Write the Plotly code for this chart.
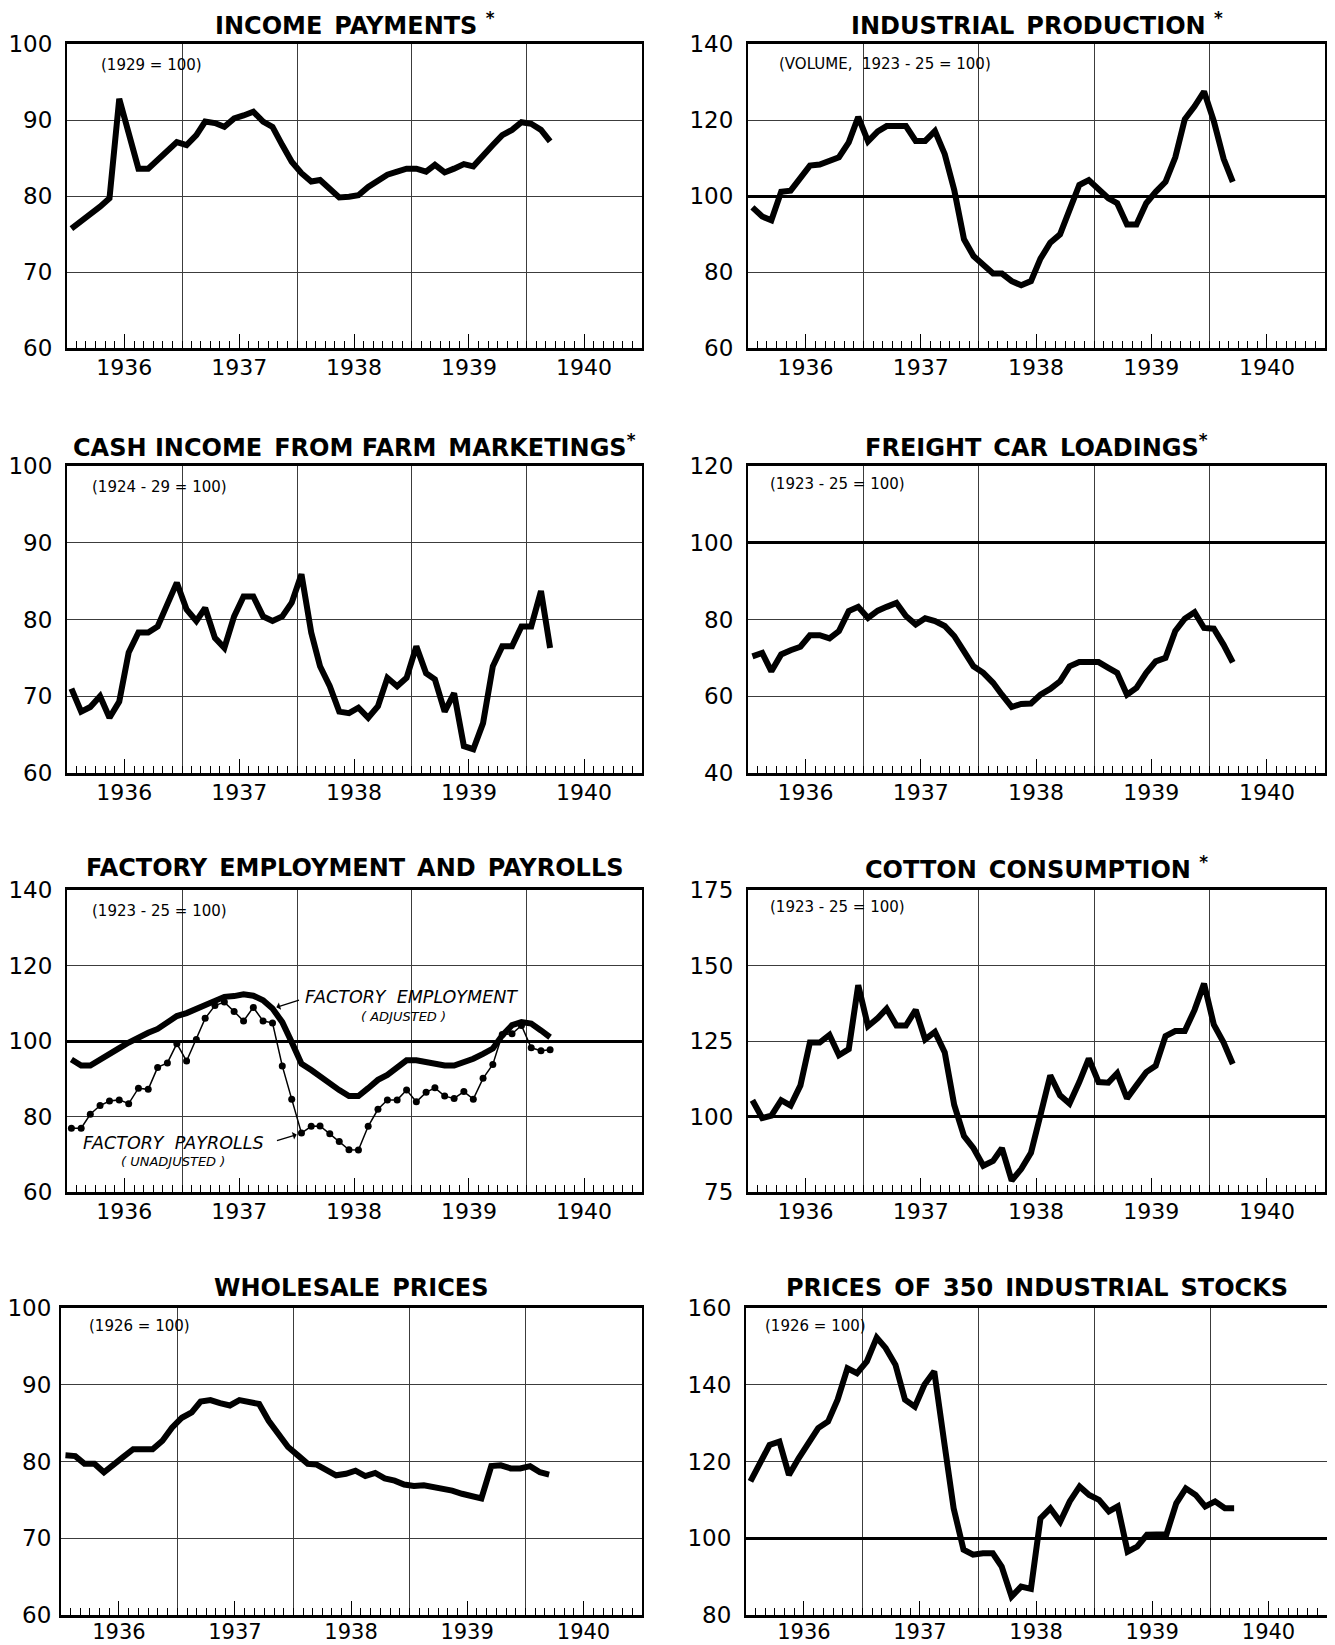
import plotly.graph_objects as go

# ---------------- data (monthly, Jan 1936 - Mar 1940) ----------------
months = [f"{1936 + k // 12}-{k % 12 + 1:02d}-15" for k in range(51)]

income_payments = [75.7, 76.6, 77.6, 78.6, 79.7, 92.8, 88.2, 83.6, 83.6, 84.7,
                   85.8, 87.1, 86.7, 88.0, 89.8, 89.6, 89.1, 90.2, 90.6, 91.1,
                   89.8, 89.1, 86.7, 84.5, 83.0, 81.9, 82.1, 81.0, 79.8, 79.9,
                   80.1, 81.2, 81.9, 82.8, 83.2, 83.6, 83.6, 83.2, 84.1, 83.1,
                   83.6, 84.2, 83.9, 85.4, 86.7, 88.0, 88.7, 89.7, 89.5, 88.7, 87.2]

industrial_production = [97, 94.6, 93.6, 101.1, 101.4, 104.6, 108, 108.3, 109.2, 110.2,
                         114.1, 120.8, 114.4, 117, 118.4, 118.4, 118.4, 114.5, 114.5, 117.1,
                         111, 101.6, 88.6, 84.2, 81.7, 79.6, 79.6, 77.6, 76.5, 77.6,
                         83.5, 87.7, 89.9, 95.9, 102.9, 104.2, 101.6, 99.4, 98.1, 92.5,
                         92.5, 98.1, 101.1, 103.7, 110.2, 120.2, 123.6, 127.5, 119.7, 109.8, 103.7]

farm_income = [71, 68, 68.6, 70, 67.2, 69.3, 75.7, 78.3, 78.3, 79.1,
               82, 84.8, 81.3, 79.8, 81.5, 77.6, 76.3, 80.4, 83, 83,
               80.4, 79.8, 80.4, 82.2, 85.9, 78.3, 73.9, 71.3, 68, 67.8,
               68.5, 67.2, 68.7, 72.4, 71.3, 72.4, 76.5, 73, 72.2, 68,
               70.4, 63.5, 63.1, 66.5, 73.9, 76.5, 76.5, 79.1, 79.1, 83.7, 76.3]

freight_loadings = [70.4, 71.3, 66.5, 70.9, 72, 72.9, 75.9, 75.9, 75.1, 77,
                    82.2, 83.3, 80.4, 82.3, 83.3, 84.3, 80.9, 78.7, 80.3, 79.6,
                    78.3, 75.7, 71.7, 67.8, 66.1, 63.5, 60.4, 57.2, 58, 58.1,
                    60.4, 61.9, 63.9, 67.8, 68.9, 68.9, 68.9, 67.4, 66.1, 60.4,
                    62.2, 66.1, 69.1, 70, 77, 80.2, 81.9, 77.8, 77.6, 73.4, 68.8]

factory_employment = [95.1, 93.5, 93.5, 94.9, 96.6, 98.1, 99.6, 101, 102.2, 103.2,
                      105, 106.6, 107.4, 108.5, 109.7, 110.8, 111.7, 111.9, 112.4, 112,
                      110.8, 108.6, 105, 99.7, 94, 92.3, 90.5, 88.8, 87, 85.4,
                      85.4, 87.5, 89.7, 91, 93.2, 94.9, 94.9, 94.4, 94, 93.5,
                      93.5, 94.4, 95.3, 96.6, 98, 101.5, 104.2, 105, 104.6, 102.8, 101]

factory_payrolls = [76.9, 76.9, 80.6, 82.9, 84.1, 84.4, 83.4, 87.5, 87.2, 93,
                    94.2, 99.3, 94.7, 100.4, 106, 109.4, 110.3, 107.8, 105.3, 108.9,
                    105.3, 104.8, 93.4, 84.6, 75.6, 77.4, 77.5, 75.4, 73.4, 71.2,
                    71.1, 77.4, 81.9, 84.4, 84.4, 87, 83.9, 86.4, 87.6, 85.4,
                    84.8, 86.6, 84.6, 90.1, 93.8, 101.7, 101.9, 104.1, 98.2, 97.4, 97.7]

cotton_consumption = [105.4, 99.5, 100.3, 105.4, 103.6, 110.3, 124.5, 124.5, 127, 120.3,
                      122.3, 143.5, 129.9, 132.6, 135.7, 130.1, 130.1, 135.3, 125.5, 128,
                      121.2, 103.8, 93.5, 89.5, 83.7, 85.3, 89.5, 78.8, 82.6, 88,
                      100.5, 113.6, 107, 104.3, 111.4, 119.2, 111.4, 111.2, 114.3, 106,
                      110.3, 114.7, 116.8, 126.6, 128.3, 128.3, 135.3, 144, 130.4, 124.5, 117.4]

wholesale_prices = [80.8, 80.7, 79.7, 79.7, 78.6, 79.5, 80.6, 81.6, 81.6, 81.6,
                    82.7, 84.4, 85.7, 86.4, 87.8, 88, 87.6, 87.3, 88, 87.7,
                    87.5, 85.3, 83.4, 81.9, 80.8, 79.7, 79.6, 78.8, 78.2, 78.4,
                    78.8, 78.1, 78.5, 77.8, 77.5, 77, 76.8, 76.9, 76.7, 76.3,
                    76.2, 75.8, 75.5, 75.2, 79.4, 79.5, 79.1, 79.1, 79.4, 78.6, 78.3]

stock_prices = [114.8, 120, 124.3, 125.2, 116.5, 120.9, 124.8, 128.7, 130.4, 136.1,
                144.3, 143, 146.1, 152.3, 149.6, 145.2, 136.1, 134.3, 140, 143.5,
                125.2, 107.8, 97, 95.7, 96.1, 96.1, 92.6, 84.8, 87.4, 86.8,
                105.2, 107.8, 104.3, 109.6, 113.5, 111.3, 110, 107, 108.3, 96.5,
                97.8, 100.9, 101, 101, 109.1, 113, 111.3, 108.3, 109.6, 107.8, 107.8]

G = "\u2002"  # wide gap between title words
panels = [
    dict(title=f"INCOME{G}PAYMENTS <sup>*</sup>", sub="(1929 = 100)", ticks=[60, 70, 80, 90, 100],
         series=[income_payments], base=False, col=0, row=0, subx=0.055, suby=0.93),
    dict(title=f"INDUSTRIAL{G}PRODUCTION <sup>*</sup>", sub="(VOLUME,  1923 - 25 = 100)",
         ticks=[60, 80, 100, 120, 140], series=[industrial_production], base=True, col=1, row=0,
         subx=0.05, suby=0.935),
    dict(title=f"CASH INCOME{G}FROM FARM{G}MARKETINGS<sup>*</sup>", sub="(1924 - 29 = 100)",
         ticks=[60, 70, 80, 90, 100], series=[farm_income], base=False, col=0, row=1,
         subx=0.04, suby=0.93),
    dict(title=f"FREIGHT{G}CAR{G}LOADINGS<sup>*</sup>", sub="(1923 - 25 = 100)",
         ticks=[40, 60, 80, 100, 120], series=[freight_loadings], base=True, col=1, row=1,
         subx=0.035, suby=0.94),
    dict(title=f"FACTORY{G}EMPLOYMENT{G}AND{G}PAYROLLS", sub="(1923 - 25 = 100)",
         ticks=[60, 80, 100, 120, 140], series=[factory_employment], base=True, col=0, row=2,
         subx=0.04, suby=0.93),
    dict(title=f"COTTON{G}CONSUMPTION <sup>*</sup>", sub="(1923 - 25 = 100)",
         ticks=[75, 100, 125, 150, 175], series=[cotton_consumption], base=True, col=1, row=2,
         subx=0.035, suby=0.945),
    dict(title=f"WHOLESALE{G}PRICES", sub="(1926 = 100)", ticks=[60, 70, 80, 90, 100],
         series=[wholesale_prices], base=False, col=0, row=3, subx=0.045, suby=0.94),
    dict(title=f"PRICES{G}OF{G}350{G}INDUSTRIAL{G}STOCKS", sub="(1926 = 100)",
         ticks=[80, 100, 120, 140, 160], series=[stock_prices], base=True, col=1, row=3,
         subx=0.03, suby=0.94),
]

# ---------------- layout geometry (page pixels) ----------------
PAGE_W, PAGE_H = 1335, 1645
OFF = 8                                   # default body margin of the page
W, H = PAGE_W - OFF, PAGE_H - OFF
col_px = [[(67, 642), (67, 642), (67, 642), (61, 642)],
          [(748, 1325), (748, 1325), (748, 1325), (746, 1327)]]
row_px = [(44, 348), (466, 773), (890, 1192), (1308, 1615)]
title_px = [24, 446, 868, 1288]

FONT = "DejaVu Sans"
GRID = "#3c3c3c"
x_range = ["1936-01-01", "1941-01-01"]


def px_x(v):
    return (v - OFF) / W


def px_y(v):
    return 1 - (v - OFF) / H


fig = go.Figure()
layout = dict(width=W, height=H, margin=dict(l=0, r=0, t=0, b=0, pad=0, autoexpand=False),
              autosize=False, paper_bgcolor="white", plot_bgcolor="white", showlegend=False,
              font=dict(family=FONT, color="black"))
annotations = []

for k, p in enumerate(panels, start=1):
    ov = k + 8
    xs = "" if k == 1 else str(k)
    c0, c1 = col_px[p["col"]][p["row"]]
    xd = [px_x(c0), px_x(c1)]
    r0, r1 = row_px[p["row"]]
    yd = [px_y(r1), px_y(r0)]
    yr = [p["ticks"][0], p["ticks"][-1]]
    last_row = p["row"] == 3

    layout[f"xaxis{xs}"] = dict(
        domain=xd, range=x_range, type="date", anchor=f"y{xs}", automargin=False,
        tickmode="linear", tick0="1936-07-01", dtick="M12", tickformat="%Y",
        ticks="inside", ticklen=14, tickwidth=1.4, tickcolor="black",
        minor=dict(ticks="inside", ticklen=7, tickwidth=1.2, tickcolor="black",
                   dtick="M1", tick0="1936-01-01", showgrid=False),
        showgrid=False, zeroline=False, showline=True, mirror=True,
        linewidth=3, linecolor="black", tickfont=dict(size=21 if last_row else 22, family=FONT),
        ticklabelstandoff=-4 if last_row else -2, fixedrange=True)
    layout[f"yaxis{xs}"] = dict(
        domain=yd, range=yr, anchor=f"x{xs}", automargin=False, tickmode="array",
        tickvals=p["ticks"], showgrid=True, gridcolor=GRID, gridwidth=1, zeroline=False,
        showline=True, mirror=True, linewidth=2.2, linecolor="black", ticks="",
        tickfont=dict(size=23, family=FONT),
        ticklabelstandoff=3 if (last_row and p["col"] == 0) else 8, fixedrange=True)
    # overlay axes: year grid lines and the heavy 100 reference line
    layout[f"xaxis{ov}"] = dict(
        domain=xd, range=x_range, type="date", overlaying=f"x{xs}", anchor=f"y{ov}",
        automargin=False, tickmode="linear", tick0="1936-01-01", dtick="M12",
        showticklabels=False, ticks="", showgrid=True, gridcolor=GRID, gridwidth=1,
        zeroline=False, showline=False, fixedrange=True)
    layout[f"yaxis{ov}"] = dict(
        domain=yd, range=yr, overlaying=f"y{xs}", anchor=f"x{ov}", automargin=False,
        tickmode="array", tickvals=[100] if p["base"] else [], showticklabels=False,
        ticks="", showgrid=p["base"], gridcolor="black", gridwidth=2.6, zeroline=False,
        showline=False, fixedrange=True)
    fig.add_trace(go.Scatter(x=[], y=[], xaxis=f"x{ov}", yaxis=f"y{ov}",
                             hoverinfo="skip", showlegend=False))

    for s in p["series"]:
        fig.add_trace(go.Scatter(x=months, y=s, mode="lines", xaxis=f"x{xs}", yaxis=f"y{xs}",
                                 line=dict(color="black", width=6), hoverinfo="skip"))

    annotations.append(dict(text=f"<b>{p['title']}</b>", xref="paper", yref="paper",
                            x=(xd[0] + xd[1]) / 2, y=px_y(title_px[p["row"]]),
                            xanchor="center", yanchor="middle", showarrow=False,
                            font=dict(size=24, family=FONT)))
    annotations.append(dict(text=p["sub"], xref=f"x{xs} domain", yref=f"y{xs} domain",
                            x=p["subx"], y=p["suby"], xanchor="left", yanchor="middle",
                            showarrow=False, font=dict(size=15, family=FONT)))

# factory payrolls (thin line with dots) on panel 5
fig.add_trace(go.Scatter(x=months, y=factory_payrolls, mode="lines+markers",
                         xaxis="x5", yaxis="y5", line=dict(color="black", width=1.5),
                         marker=dict(color="black", size=7), hoverinfo="skip"))

lab = dict(showarrow=False, xref="x5 domain", yref="y5 domain", yanchor="middle")
annotations += [
    dict(text="<i>FACTORY  EMPLOYMENT</i>", x=0.41, y=0.645, xanchor="left",
         font=dict(size=17.5, family=FONT), **lab),
    dict(text="<i>( ADJUSTED )</i>", x=0.585, y=0.58, xanchor="center",
         font=dict(size=13, family=FONT), **lab),
    dict(text="<i>FACTORY  PAYROLLS</i>", x=0.025, y=0.163, xanchor="left",
         font=dict(size=17.5, family=FONT), **lab),
    dict(text="<i>( UNADJUSTED )</i>", x=0.185, y=0.1, xanchor="center",
         font=dict(size=13, family=FONT), **lab),
    dict(text="", x=months[21], y=factory_employment[21], xref="x5", yref="y5",
         showarrow=True, ax=28, ay=-9, arrowhead=1, arrowsize=1, arrowwidth=1.3,
         arrowcolor="black", standoff=4),
    dict(text="", x=months[24], y=factory_payrolls[24], xref="x5", yref="y5",
         showarrow=True, ax=-26, ay=8, arrowhead=1, arrowsize=1, arrowwidth=1.3,
         arrowcolor="black", standoff=5),
]

layout["annotations"] = annotations
fig.update_layout(**layout)
fig.write_html("out.html")
